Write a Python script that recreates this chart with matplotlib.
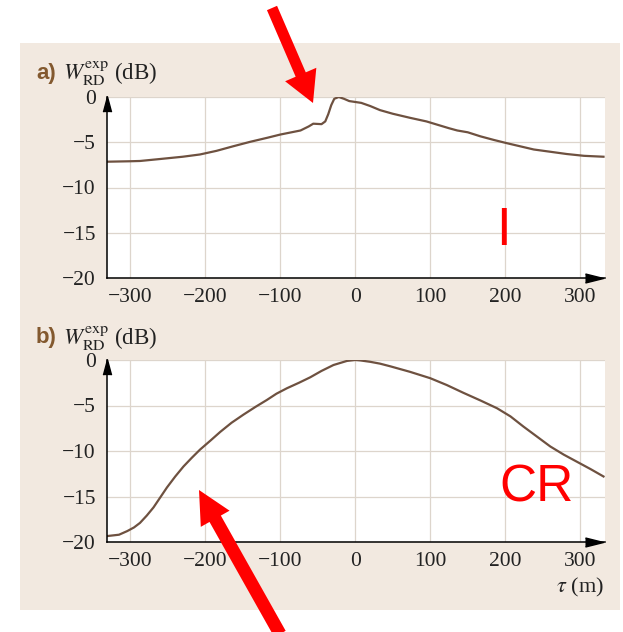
import matplotlib.pyplot as plt
from matplotlib.patches import Rectangle, FancyArrow
from matplotlib.transforms import Affine2D

# DATA

# a) experimental W_RD, lag tau in m, level in dB
tau_a = [-331, -300, -287, -260, -230, -207, -185, -163, -140, -117, -100, -85,
         -73, -62, -56, -45, -40, -36, -32, -28, -22, -15, -8, 0, 8, 20, 33, 50,
         73, 95, 109, 125, 136, 150, 167, 185, 202, 220, 238, 260, 282, 305, 331]
db_a = [-7.15, -7.1, -7.07, -6.85, -6.6, -6.35, -5.95, -5.45, -4.95, -4.5, -4.15, -3.9,
        -3.7, -3.25, -2.95, -3.0, -2.7, -1.9, -0.9, -0.2, 0.0, -0.2, -0.45, -0.55, -0.65,
        -1.0, -1.45, -1.85, -2.3, -2.7, -3.05, -3.45, -3.7, -3.9, -4.35, -4.75, -5.1,
        -5.45, -5.8, -6.05, -6.3, -6.5, -6.6]

# b) experimental W_RD
tau_b = [-331, -315, -304, -295, -287, -278, -269, -260, -251, -240, -229, -218,
         -207, -193, -180, -165, -149, -133, -118, -105, -91, -75, -60, -45, -29,
         -11, 0, 7, 20, 33, 47, 73, 100, 122, 144, 167, 189, 207, 224, 242, 260,
         278, 296, 314, 331]
db_b = [-19.35, -19.2, -18.8, -18.4, -17.9, -17.1, -16.2, -15.1, -14.0, -12.8, -11.7,
        -10.75, -9.85, -8.85, -7.9, -6.9, -6.0, -5.15, -4.4, -3.7, -3.1, -2.5, -1.9,
        -1.2, -0.55, -0.1, 0.0, -0.05, -0.2, -0.4, -0.7, -1.3, -2.0, -2.75, -3.6,
        -4.45, -5.3, -6.2, -7.3, -8.4, -9.5, -10.4, -11.2, -12.0, -12.8]

x_ticks = [-300, -200, -100, 0, 100, 200, 300]
y_ticks = [0, -5, -10, -15, -20]
panel_tags = ['a)', 'b)']

# STYLE
W, H = 623, 632
line_col = '#6e5140'
grid_col = '#ddd5cc'
panel_col = '#f2e9e0'
tag_col = '#83592f'

plt.rcParams['font.family'] = ['Liberation Serif', 'DejaVu Serif']
plt.rcParams['mathtext.fontset'] = 'stix'
plt.rcParams['axes.unicode_minus'] = True

fig = plt.figure(figsize=(W / 100, H / 100), dpi=100)
fig.patch.set_facecolor('white')

# pixel coords of the image (origin top-left) -> figure
px = Affine2D().scale(1 / W, -1 / H).translate(0, 1) + fig.transFigure

# beige panel behind everything
fig.add_artist(Rectangle((20, 43), 600, 567, transform=px,
                         facecolor=panel_col, edgecolor='none', zorder=-10))

ax_a = fig.add_axes([107 / W, 1 - 278 / H, 498 / W, 181 / H])
ax_b = fig.add_axes([107 / W, 1 - 542 / H, 498 / W, 182 / H])

for ax, tau, db in [(ax_a, tau_a, db_a), (ax_b, tau_b, db_b)]:
    ax.set_facecolor('white')
    ax.plot(tau, db, color=line_col, lw=1.6, zorder=3)
    ax.set_xlim(-331, 333)
    ax.set_ylim(-20, 0)
    ax.set_xticks(x_ticks)
    ax.set_yticks(y_ticks)
    ax.grid(True, color=grid_col, lw=0.9)
    ax.set_axisbelow(True)
    for s in ['top', 'right']:
        ax.spines[s].set_visible(False)
    for s in ['left', 'bottom']:
        ax.spines[s].set_color('black')
        ax.spines[s].set_linewidth(1.1)
        ax.spines[s].set_zorder(4)
    ax.tick_params(length=0, labelsize=15.5, colors='#222222')
    ax.tick_params(axis='x', pad=7)
    ax.tick_params(axis='y', pad=8)
    # axis arrow heads
    ax.plot(0.978, 0, marker=[(-9, -4.5), (9, 0), (-9, 4.5)], ms=13, color='black',
            transform=ax.transAxes, clip_on=False, zorder=5)
    ax.plot(0, 0.96, marker=[(-4, -7.5), (0, 7.5), (4, -7.5)], ms=11, color='black',
            transform=ax.transAxes, clip_on=False, zorder=5)

# panel headings
for tag, yc in zip(panel_tags, [73, 338]):
    fig.text(36, yc, tag, transform=px, family='Liberation Sans', fontweight='bold',
             fontsize=16, color=tag_col, va='center', ha='left')
    fig.text(63, yc, r'$W_{\mathrm{RD}}^{\mathrm{exp}}$ (dB)', transform=px,
             fontsize=16.5, color='#222222', va='center', ha='left')

fig.text(604, 587, r'$\tau$ (m)', transform=px, fontsize=16, color='#222222',
         va='center', ha='right')

# red overlay marks
fig.add_artist(FancyArrow(272, 8, 41, 95, width=11, head_width=34, head_length=31,
                          length_includes_head=True, color='#ff0000', lw=0,
                          transform=px, zorder=20))
fig.add_artist(FancyArrow(280, 634, -81, -144, width=13, head_width=33, head_length=33,
                          length_includes_head=True, color='#ff0000', lw=0,
                          transform=px, zorder=20))
fig.text(503, 231, 'I', transform=px, family='Liberation Sans', fontsize=38,
         color='#ff0000', ha='center', va='center', zorder=20)
fig.text(537, 488, 'CR', transform=px, family='Liberation Sans', fontsize=37,
         color='#ff0000', ha='center', va='center', zorder=20)

fig.savefig('out.png', dpi=100)
